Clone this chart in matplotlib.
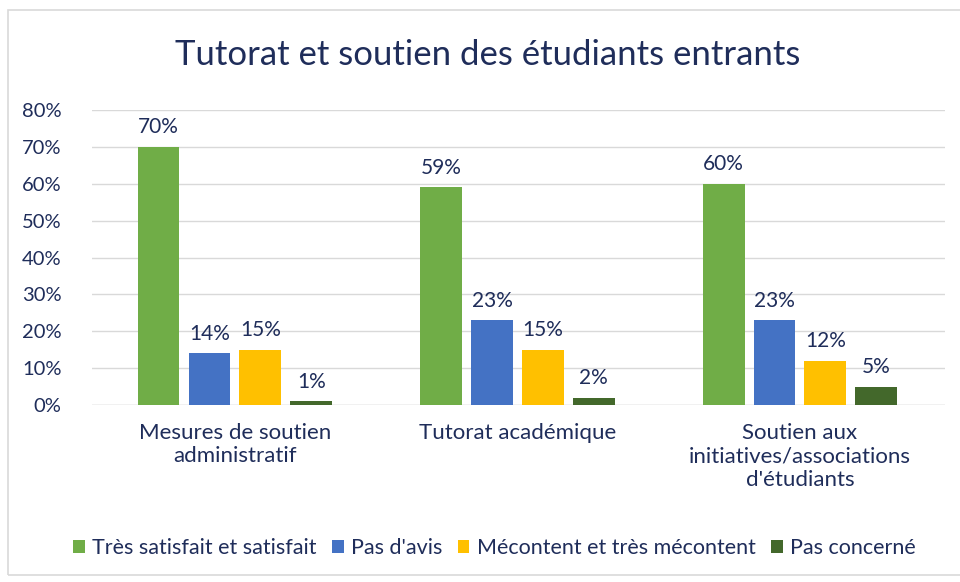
import numpy as np
import matplotlib.pyplot as plt
from matplotlib.patches import Rectangle

# données
categories = ["Mesures de soutien\nadministratif", "Tutorat académique",
              "Soutien aux\ninitiatives/associations\nd'étudiants"]
series = ["Très satisfait et satisfait", "Pas d'avis",
          "Mécontent et très mécontent", "Pas concerné"]
tres_satisfait = [70, 59, 60]
pas_avis = [14, 23, 23]
mecontent = [15, 15, 12]
pas_concerne = [1, 2, 5]
values = [tres_satisfait, pas_avis, mecontent, pas_concerne]
colors = ["#70AD47", "#4472C4", "#FFC000", "#43682B"]
yticks = [0, 10, 20, 30, 40, 50, 60, 70, 80]

text_color = "#1F2D5A"
plt.rcParams['font.family'] = ['Lato', 'DejaVu Sans']

fig = plt.figure(figsize=(9.6, 5.82), dpi=100)
ax = fig.add_axes([0.096, 0.304, 0.888, 0.507])

x = np.arange(len(categories))
step = 0.18
width = 0.148
for i, (vals, col, name) in enumerate(zip(values, colors, series)):
    pos = x + (i - 1.5) * step
    bars = ax.bar(pos, vals, width, color=col, label=name, zorder=3)
    for b, v in zip(bars, vals):
        ax.annotate(f"{v}%", (b.get_x() + b.get_width() / 2, b.get_height()),
                    xytext=(0, 7), textcoords="offset points",
                    ha="center", va="bottom", fontsize=15, color=text_color)

ax.set_xlim(-0.505, 2.512)
ax.set_ylim(0, 80)
ax.set_yticks(yticks)
ax.set_yticklabels([f"{t}%" for t in yticks])
ax.set_xticks(x)
ax.set_xticklabels(categories, fontsize=16, color=text_color, linespacing=1.2)
ax.tick_params(axis="y", labelsize=14.5, labelcolor=text_color, length=0, pad=22)
ax.tick_params(axis="x", length=0, pad=13)
ax.yaxis.grid(True, color="#D9D9D9", linewidth=1, zorder=0)
for s in ax.spines.values():
    s.set_visible(False)
ax.axhline(0, color="#D9D9D9", linewidth=1, zorder=2)

fig.text(0.508, 0.905, "Tutorat et soutien des étudiants entrants", fontsize=25,
         color=text_color, ha="center", va="center")

leg = fig.legend(loc="center", bbox_to_anchor=(0.515, 0.058), ncol=4,
                 frameon=False, fontsize=15.5, handlelength=0.55, handleheight=0.55,
                 handletextpad=0.35, columnspacing=0.7)
for t in leg.get_texts():
    t.set_color(text_color)

# cadre du graphique
fig.patches.append(Rectangle((0.008, 0.012), 1.2, 0.97, transform=fig.transFigure,
                             fill=False, edgecolor="#D9D9D9", linewidth=1.2))

fig.savefig("out.png", dpi=100)
